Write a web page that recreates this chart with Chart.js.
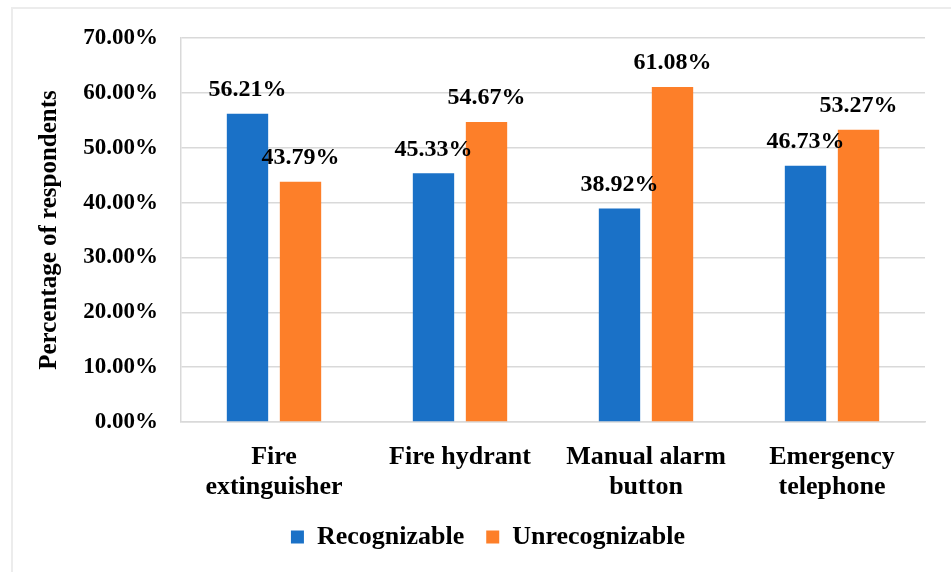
<!DOCTYPE html>
<html>
<head>
<meta charset="utf-8">
<script src="https://cdn.jsdelivr.net/npm/chart.js@4"></script>
<style>
  html, body { margin: 0; padding: 0; background: #ffffff; }
  #wrap { position: relative; width: 951px; height: 572px; }
  #frame { position: absolute; left: 11px; top: 7px; right: 0; bottom: 0;
           border-left: 2px solid #ececec; border-top: 2px solid #ececec; }
  canvas { position: absolute; left: 0; top: 0; }
</style>
</head>
<body>
<div id="wrap">
  <div id="frame"></div>
  <canvas id="chart" width="951" height="572"></canvas>
</div>
<script>
// Survey: recognition of fire safety equipment
const categories = [
  ['Fire', 'extinguisher'],
  'Fire hydrant',
  ['Manual alarm', 'button'],
  ['Emergency', 'telephone']
];
const recognizable   = [56.21, 45.33, 38.92, 46.73];
const unrecognizable = [43.79, 54.67, 61.08, 53.27];
const yTicks = [0, 10, 20, 30, 40, 50, 60, 70];

const FONT = '"Liberation Serif", "Times New Roman", serif';

// Writes each bar's value just above it
const valueLabels = {
  id: 'valueLabels',
  afterDatasetsDraw(chart) {
    const ctx = chart.ctx;
    ctx.save();
    ctx.font = 'bold 24px ' + FONT;
    ctx.fillStyle = '#000000';
    ctx.textAlign = 'center';
    ctx.textBaseline = 'middle';
    chart.data.datasets.forEach((ds, i) => {
      chart.getDatasetMeta(i).data.forEach((bar, j) => {
        ctx.fillText(ds.data[j].toFixed(2) + '%', bar.x, bar.y - 24);
      });
    });
    ctx.restore();
  }
};

// Centres the legend on the whole frame rather than on the plot column
const legendShift = {
  id: 'legendShift',
  afterLayout(chart) {
    const lg = chart.legend;
    if (lg) { lg.left += 19; lg.right += 19; }
  }
};

new Chart(document.getElementById('chart'), {
  type: 'bar',
  data: {
    labels: categories,
    datasets: [
      { label: 'Recognizable', data: recognizable, backgroundColor: '#1a71c7' },
      { label: 'Unrecognizable', data: unrecognizable, backgroundColor: '#fd7f29' }
    ]
  },
  options: {
    responsive: false,
    animation: false,
    devicePixelRatio: 1,
    categoryPercentage: 0.57,
    barPercentage: 0.78,
    layout: { padding: { left: 13, top: 38, right: 26, bottom: 12 } },
    plugins: {
      legend: {
        position: 'bottom',
        labels: {
          boxWidth: 13,
          boxHeight: 13,
          padding: 22,
          color: '#000000',
          font: { family: FONT, size: 26, weight: 'bold' }
        }
      },
      tooltip: { enabled: false }
    },
    scales: {
      x: {
        grid: { display: false, drawTicks: false },
        border: { display: true, color: '#d9d9d9', width: 1.5 },
        ticks: {
          color: '#000000',
          padding: 20,
          maxRotation: 0,
          autoSkip: false,
          font: { family: FONT, size: 26, weight: 'bold', lineHeight: 1.15 }
        },
        afterFit(scale) { scale.height = 80; }
      },
      y: {
        min: 0,
        max: 70,
        afterBuildTicks(scale) { scale.ticks = yTicks.map(v => ({ value: v })); },
        grid: { color: '#d9d9d9', lineWidth: 1.5, drawTicks: false },
        border: { display: true, color: '#d9d9d9', width: 1.5 },
        ticks: {
          color: '#000000',
          padding: 23,
          font: { family: FONT, size: 23, weight: 'bold' },
          callback: v => v.toFixed(2) + '%'
        },
        title: {
          display: true,
          text: 'Percentage of respondents',
          color: '#000000',
          padding: { top: 22, bottom: 8 },
          font: { family: FONT, size: 25, weight: 'bold' }
        },
        afterFit(scale) { scale.width = 168; }
      }
    }
  },
  plugins: [valueLabels, legendShift]
});
</script>
</body>
</html>
